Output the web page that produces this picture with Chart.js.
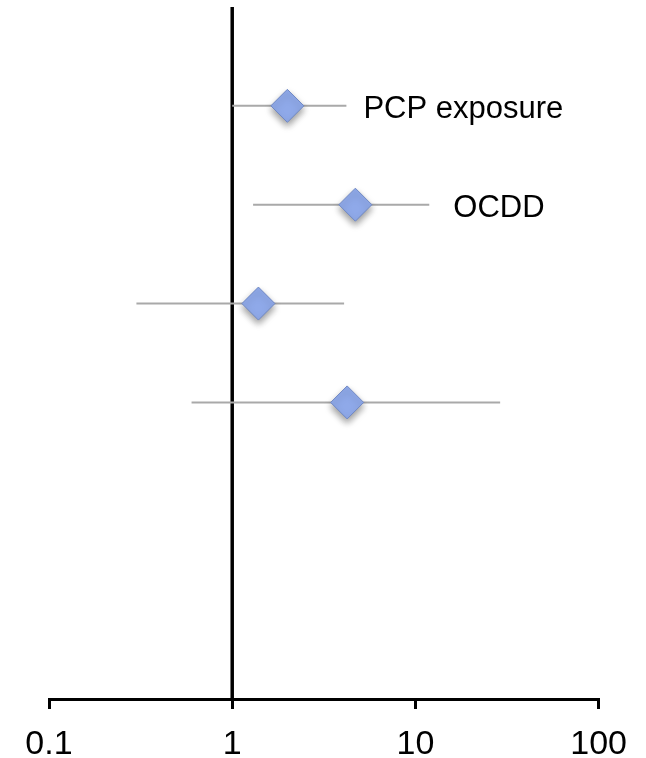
<!DOCTYPE html>
<html>
<head>
<meta charset="utf-8">
<script src="https://cdn.jsdelivr.net/npm/chart.js@4"></script>
<style>
  body { margin: 0; background: #fff; }
  #wrap { width: 646px; height: 758px; }
</style>
</head>
<body>
<div id="wrap"><canvas id="forest"></canvas></div>
<script>
// rows of the forest plot, top to bottom
const rowY = [6, 5, 4, 3];
const estimate = [2.0, 4.7, 1.39, 4.24];
const lower = [1.0, 1.3, 0.3, 0.6];
const upper = [4.2, 11.9, 4.08, 29];

// text labels beside the first two rows
const labelText = ['PCP exposure', 'OCDD'];
const labelX = [5.2, 16.1];

const xTicks = [0.1, 1, 10, 100];
const yRange = [0, 7];

const errorSets = rowY.map((y, i) => ({
  type: 'line',
  data: [{x: lower[i], y}, {x: upper[i], y}],
  borderColor: '#a9a9a9',
  borderWidth: 2,
  pointRadius: 0,
}));

const diamondShadow = {
  id: 'diamondShadow',
  beforeDatasetDraw(chart, args) {
    if (args.index !== 0) return;
    const ctx = chart.ctx;
    ctx.save();
    ctx.shadowColor = 'rgba(0,0,0,0.4)';
    ctx.shadowBlur = 7;
    ctx.shadowOffsetY = 4;
  },
  afterDatasetDraw(chart, args) {
    if (args.index !== 0) return;
    chart.ctx.restore();
  }
};

const rowLabels = {
  id: 'rowLabels',
  afterDatasetsDraw(chart) {
    const {ctx, scales: {x, y}} = chart;
    ctx.save();
    ctx.font = '31px "Liberation Sans", Arial, sans-serif';
    ctx.fillStyle = '#000';
    ctx.textAlign = 'left';
    ctx.textBaseline = 'middle';
    labelText.forEach((t, i) => {
      ctx.fillText(t, x.getPixelForValue(labelX[i]), y.getPixelForValue(rowY[i]) + 4);
    });
    ctx.restore();
  }
};

new Chart('forest', {
  type: 'scatter',
  data: {
    datasets: [
      {
        data: rowY.map((y, i) => ({x: estimate[i], y})),
        pointStyle: 'rectRot',
        pointRadius: 16.5,
        pointHoverRadius: 16.5,
        backgroundColor: '#8fa9e9',
        borderColor: '#6f88c4',
        borderWidth: 1,
      },
      ...errorSets,
      {
        type: 'line',
        data: [{x: 1, y: yRange[0]}, {x: 1, y: yRange[1]}],
        borderColor: '#000',
        borderWidth: 3.5,
        pointRadius: 0,
      }
    ]
  },
  options: {
    responsive: true,
    maintainAspectRatio: false,
    animation: false,
    layout: {autoPadding: false, padding: {left: 49, right: 46, top: 7, bottom: -23}},
    plugins: {legend: {display: false}, tooltip: {enabled: false}},
    scales: {
      x: {
        type: 'logarithmic',
        min: 0.1,
        max: 100,
        afterBuildTicks: (axis) => { axis.ticks = xTicks.map(v => ({value: v})); },
        ticks: {
          callback: (v) => String(v),
          font: {family: '"Liberation Sans", Arial, sans-serif', size: 34, lineHeight: 1.0},
          color: '#000',
          padding: 19,
          maxRotation: 0,
        },
        grid: {drawOnChartArea: false, drawTicks: true, tickLength: 10, color: '#000', lineWidth: 3},
        border: {display: true, color: '#000', width: 3},
      },
      y: {
        type: 'linear',
        min: yRange[0],
        max: yRange[1],
        display: false,
      }
    }
  },
  plugins: [diamondShadow, rowLabels]
});
</script>
</body>
</html>
